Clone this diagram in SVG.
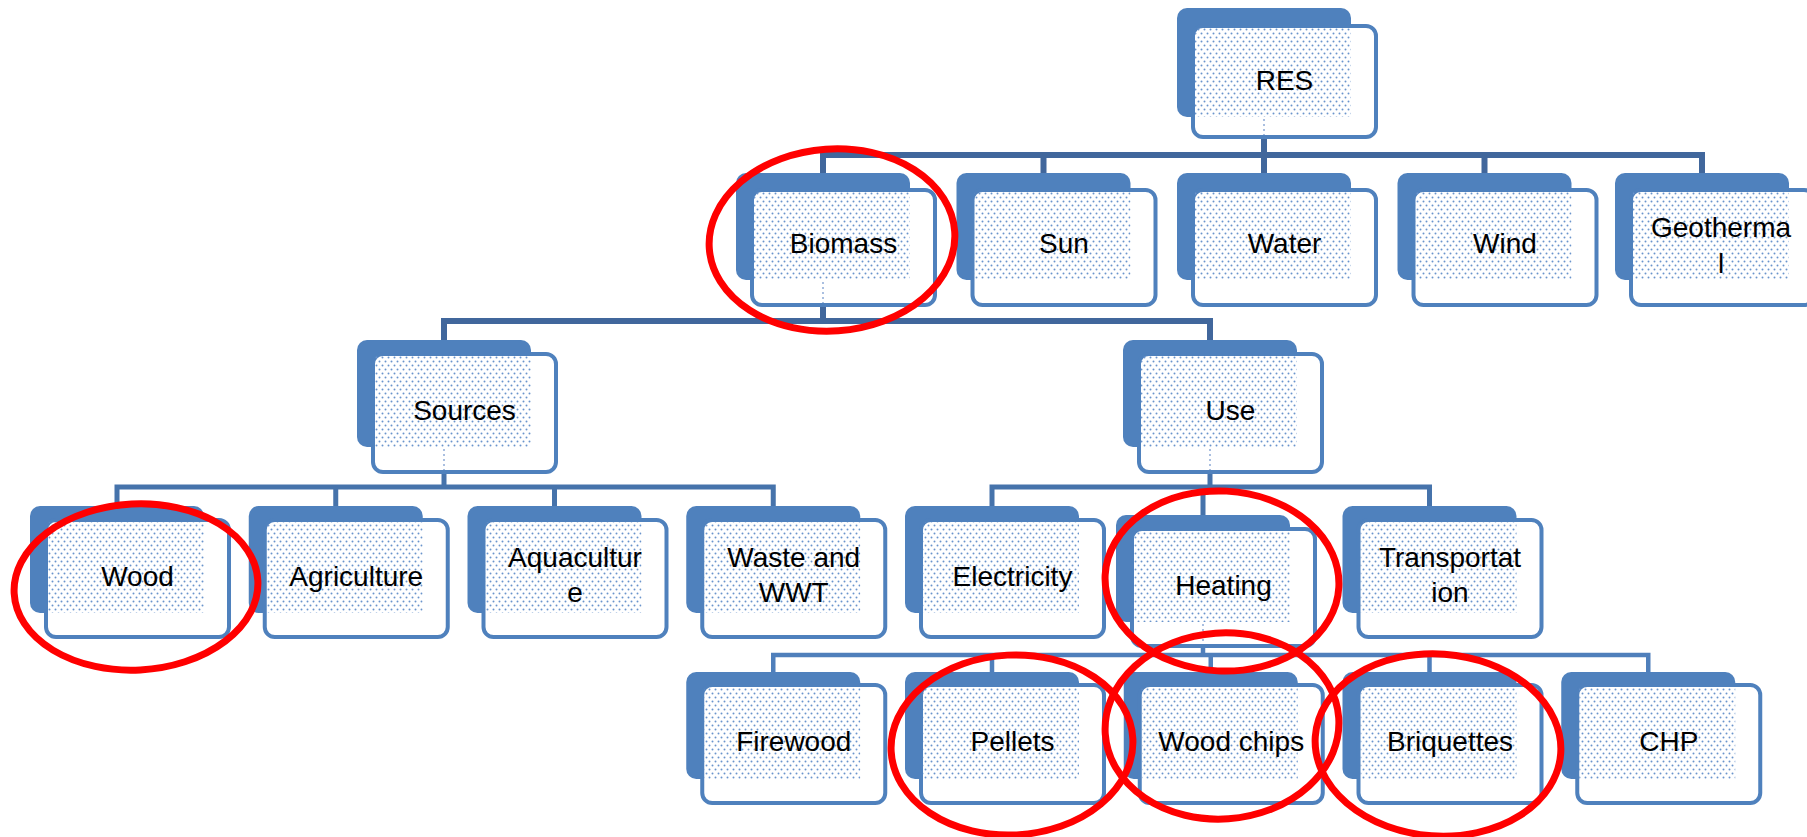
<svg xmlns="http://www.w3.org/2000/svg" width="1807" height="837" viewBox="0 0 1807 837">
<defs>
<pattern id="dots" x="0" y="0" width="6" height="8" patternUnits="userSpaceOnUse">
<circle cx="1.5" cy="1.5" r="1" fill="#6a94cc"/>
<circle cx="4.5" cy="5.5" r="1" fill="#6a94cc"/>
</pattern>
</defs>
<style>
.bk{fill:#4f81bd}
.fr{fill:#ffffff;stroke:#4f81bd;stroke-width:4}
.dt{fill:url(#dots)}
.mk{stroke:#8eaad6;stroke-width:1.5;stroke-dasharray:2 3;fill:none}
.t{font-family:"Liberation Sans",Arial,sans-serif;font-size:28px;fill:#000;text-anchor:middle}
.c0{fill:none;stroke:#41679c;stroke-width:6;stroke-linecap:square}
.c1{fill:none;stroke:#4673ab;stroke-width:5;stroke-linecap:square}
.c2{fill:none;stroke:#4f7fbb;stroke-width:4.5;stroke-linecap:square}
.red{fill:none;stroke:#ff0000;stroke-width:7}
</style>
<rect width="1807" height="837" fill="#ffffff"/>
<g id="connectors">
<path class="c0" d="M1264 137V155M823 155H1702M823 155V173M1043.5 155V173M1264 155V173M1484.5 155V173M1702 155V173"/>
<path class="c0" d="M823 305V321M444 321H1210M444 321V340M1210 321V340"/>
<path class="c1" d="M444 472V487M117 487H773.25M117 487V506M335.75 487V506M554.5 487V506M773.25 487V506"/>
<path class="c1" d="M1210 472V487M992 487H1429.5M992 487V506M1203 487V515M1429.5 487V506"/>
<path class="c2" d="M1203 646V655M773.25 655H1648.25M773.25 655V672M992 655V672M1210.75 655V672M1429.5 655V672M1648.25 655V672"/>
</g>
<g id="node-res">
<rect class="bk" x="1177" y="8" width="174" height="109" rx="10"/>
<rect class="fr" x="1193" y="26" width="183" height="111" rx="10"/>
<rect class="dt" x="1195" y="28" width="156" height="89"/>
<line class="mk" x1="1264" y1="119" x2="1264" y2="135"/>
<text class="t" x="1284.5" y="90">RES</text>
</g>
<g id="node-biomass">
<rect class="bk" x="736" y="173" width="174" height="107" rx="10"/>
<rect class="fr" x="752" y="190" width="183" height="115" rx="10"/>
<rect class="dt" x="754" y="192" width="156" height="88"/>
<line class="mk" x1="823" y1="282" x2="823" y2="303"/>
<text class="t" x="843.5" y="253">Biomass</text>
</g>
<g id="node-sun">
<rect class="bk" x="956.5" y="173" width="174" height="107" rx="10"/>
<rect class="fr" x="972.5" y="190" width="183" height="115" rx="10"/>
<rect class="dt" x="974.5" y="192" width="156" height="88"/>
<text class="t" x="1064" y="253">Sun</text>
</g>
<g id="node-water">
<rect class="bk" x="1177" y="173" width="174" height="107" rx="10"/>
<rect class="fr" x="1193" y="190" width="183" height="115" rx="10"/>
<rect class="dt" x="1195" y="192" width="156" height="88"/>
<text class="t" x="1284.5" y="253">Water</text>
</g>
<g id="node-wind">
<rect class="bk" x="1397.5" y="173" width="174" height="107" rx="10"/>
<rect class="fr" x="1413.5" y="190" width="183" height="115" rx="10"/>
<rect class="dt" x="1415.5" y="192" width="156" height="88"/>
<text class="t" x="1505" y="253">Wind</text>
</g>
<g id="node-geothermal">
<rect class="bk" x="1615" y="173" width="174" height="107" rx="10"/>
<rect class="fr" x="1631" y="190" width="183" height="115" rx="10"/>
<rect class="dt" x="1633" y="192" width="156" height="88"/>
<text class="t" x="1721" y="237">Geotherma</text>
<text class="t" x="1721" y="273">l</text>
</g>
<g id="node-sources">
<rect class="bk" x="357" y="340" width="174" height="107" rx="10"/>
<rect class="fr" x="373" y="354" width="183" height="118" rx="10"/>
<rect class="dt" x="375" y="356" width="156" height="91"/>
<line class="mk" x1="444" y1="449" x2="444" y2="470"/>
<text class="t" x="464.5" y="420">Sources</text>
</g>
<g id="node-use">
<rect class="bk" x="1123" y="340" width="174" height="107" rx="10"/>
<rect class="fr" x="1139" y="354" width="183" height="118" rx="10"/>
<rect class="dt" x="1141" y="356" width="156" height="91"/>
<line class="mk" x1="1210" y1="449" x2="1210" y2="470"/>
<text class="t" x="1230.5" y="420">Use</text>
</g>
<g id="node-wood">
<rect class="bk" x="30" y="506" width="174" height="107" rx="10"/>
<rect class="fr" x="46" y="520" width="183" height="117" rx="10"/>
<rect class="dt" x="48" y="522" width="156" height="91"/>
<text class="t" x="137.5" y="586">Wood</text>
</g>
<g id="node-agriculture">
<rect class="bk" x="248.75" y="506" width="174" height="107" rx="10"/>
<rect class="fr" x="264.75" y="520" width="183" height="117" rx="10"/>
<rect class="dt" x="266.75" y="522" width="156" height="91"/>
<text class="t" x="356.25" y="586">Agriculture</text>
</g>
<g id="node-aquaculture">
<rect class="bk" x="467.5" y="506" width="174" height="107" rx="10"/>
<rect class="fr" x="483.5" y="520" width="183" height="117" rx="10"/>
<rect class="dt" x="485.5" y="522" width="156" height="91"/>
<text class="t" x="575" y="567">Aquacultur</text>
<text class="t" x="575" y="602">e</text>
</g>
<g id="node-waste">
<rect class="bk" x="686.25" y="506" width="174" height="107" rx="10"/>
<rect class="fr" x="702.25" y="520" width="183" height="117" rx="10"/>
<rect class="dt" x="704.25" y="522" width="156" height="91"/>
<text class="t" x="793.75" y="567">Waste and</text>
<text class="t" x="793.75" y="602">WWT</text>
</g>
<g id="node-electricity">
<rect class="bk" x="905" y="506" width="174" height="107" rx="10"/>
<rect class="fr" x="921" y="520" width="183" height="117" rx="10"/>
<rect class="dt" x="923" y="522" width="156" height="91"/>
<text class="t" x="1012.5" y="586">Electricity</text>
</g>
<g id="node-heating">
<rect class="bk" x="1116" y="515" width="174" height="107" rx="10"/>
<rect class="fr" x="1132" y="529" width="183" height="117" rx="10"/>
<rect class="dt" x="1134" y="531" width="156" height="91"/>
<line class="mk" x1="1203" y1="624" x2="1203" y2="644"/>
<text class="t" x="1223.5" y="595">Heating</text>
</g>
<g id="node-transportation">
<rect class="bk" x="1342.5" y="506" width="174" height="107" rx="10"/>
<rect class="fr" x="1358.5" y="520" width="183" height="117" rx="10"/>
<rect class="dt" x="1360.5" y="522" width="156" height="91"/>
<text class="t" x="1450" y="567">Transportat</text>
<text class="t" x="1450" y="602">ion</text>
</g>
<g id="node-firewood">
<rect class="bk" x="686.25" y="672" width="174" height="107" rx="10"/>
<rect class="fr" x="702.25" y="685" width="183" height="118" rx="10"/>
<rect class="dt" x="704.25" y="687" width="156" height="92"/>
<text class="t" x="793.75" y="751">Firewood</text>
</g>
<g id="node-pellets">
<rect class="bk" x="905" y="672" width="174" height="107" rx="10"/>
<rect class="fr" x="921" y="685" width="183" height="118" rx="10"/>
<rect class="dt" x="923" y="687" width="156" height="92"/>
<text class="t" x="1012.5" y="751">Pellets</text>
</g>
<g id="node-woodchips">
<rect class="bk" x="1123.75" y="672" width="174" height="107" rx="10"/>
<rect class="fr" x="1139.75" y="685" width="183" height="118" rx="10"/>
<rect class="dt" x="1141.75" y="687" width="156" height="92"/>
<text class="t" x="1231.25" y="751">Wood chips</text>
</g>
<g id="node-briquettes">
<rect class="bk" x="1342.5" y="672" width="174" height="107" rx="10"/>
<rect class="fr" x="1358.5" y="685" width="183" height="118" rx="10"/>
<rect class="dt" x="1360.5" y="687" width="156" height="92"/>
<text class="t" x="1450" y="751">Briquettes</text>
</g>
<g id="node-chp">
<rect class="bk" x="1561.25" y="672" width="174" height="107" rx="10"/>
<rect class="fr" x="1577.25" y="685" width="183" height="118" rx="10"/>
<rect class="dt" x="1579.25" y="687" width="156" height="92"/>
<text class="t" x="1668.75" y="751">CHP</text>
</g>
<g id="annotations">
<ellipse class="red" cx="832" cy="240" rx="123" ry="91" transform="rotate(-4 832 240)"/>
<ellipse class="red" cx="136" cy="587" rx="122" ry="83" transform="rotate(-3 136 587)"/>
<ellipse class="red" cx="1222" cy="581" rx="117" ry="90" transform="rotate(3 1222 581)"/>
<ellipse class="red" cx="1012" cy="745" rx="121" ry="90" transform="rotate(-3 1012 745)"/>
<ellipse class="red" cx="1222" cy="726" rx="117" ry="93" transform="rotate(-4 1222 726)"/>
<ellipse class="red" cx="1438" cy="745" rx="123" ry="91" transform="rotate(4 1438 745)"/>
</g>
</svg>
